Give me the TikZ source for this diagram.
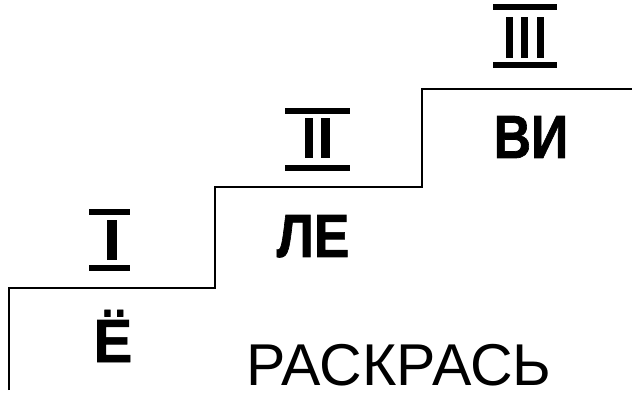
\documentclass[tikz,border=0pt]{standalone}
\usepackage{fontspec}
\setmainfont{Liberation Sans}
\newfontfamily\heavysans[FakeBold=1.2]{Liberation Sans Bold}
\begin{document}
\begin{tikzpicture}[x=1pt,y=-1pt,
  stair/.style={line width=2pt,line join=miter,black},
  bar/.style={fill=black},
  syl/.style={anchor=base,inner sep=0pt,font=\fontsize{61}{61}\selectfont\heavysans},
  word/.style={anchor=base,inner sep=0pt,font=\fontsize{59}{59}\selectfont}]
\useasboundingbox (0,0) rectangle (632,398);
% staircase
\coordinate (s0) at (9,390);
\coordinate (s1) at (9,288);
\coordinate (s2) at (215,288);
\coordinate (s3) at (215,187);
\coordinate (s4) at (422,187);
\coordinate (s5) at (422,89);
\coordinate (s6) at (632,89);
\draw[stair] (s0) -- (s1) -- (s2) -- (s3) -- (s4) -- (s5) -- (s6);
% numeral I
\fill[bar] (89,209) rectangle (130,215);
\fill[bar] (107,220) rectangle (117,260);
\fill[bar] (89,265) rectangle (130,271);
% numeral II
\fill[bar] (285,108) rectangle (350,114);
\fill[bar] (305,118) rectangle (313,158);
\fill[bar] (321,118) rectangle (330,158);
\fill[bar] (285,165) rectangle (350,171);
% numeral III
\fill[bar] (493,4) rectangle (557,10);
\fill[bar] (506,17) rectangle (513,58);
\fill[bar] (521,17) rectangle (528,58);
\fill[bar] (537,17) rectangle (544,58);
\fill[bar] (493,62) rectangle (557,68);
% syllables
\node[syl] (yo) at (113,362) {\scalebox{0.95}[1]{Ё}};
\node[syl] (le) at (313,257) {\scalebox{0.87}[1]{ЛЕ}};
\node[syl] (vi) at (531,158) {\scalebox{0.85}[1]{ВИ}};
\node[word] (raskras) at (399,385) {РАСКРАСЬ};
\end{tikzpicture}
\end{document}
